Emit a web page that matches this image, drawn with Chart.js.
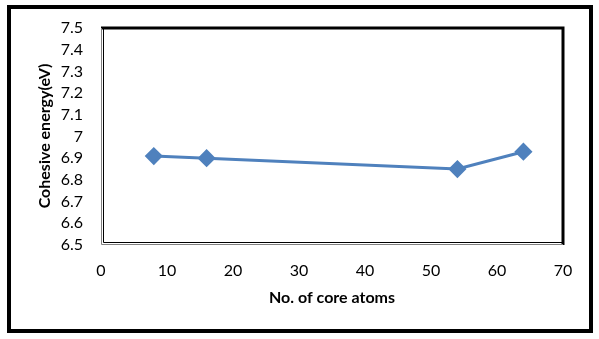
<!DOCTYPE html>
<html>
<head>
<meta charset="utf-8">
<script src="https://cdn.jsdelivr.net/npm/chart.js@4"></script>
<style>
  html, body { margin: 0; padding: 0; background: #fff; }
  canvas { display: block; }
</style>
</head>
<body>
<canvas id="cohesiveChart" width="599" height="339"></canvas>
<script>
// ====== Data ======
const coreAtoms = [8, 16, 54, 64];
const cohesiveEnergy = [6.91, 6.9, 6.85, 6.93];
const xTicks = [0, 10, 20, 30, 40, 50, 60, 70];
const yTicks = [6.5, 6.6, 6.7, 6.8, 6.9, 7, 7.1, 7.2, 7.3, 7.4, 7.5];
const xTitle = "No. of core atoms";
const yTitle = "Cohesive energy(eV)";

const FONT = "Lato, 'Open Sans', sans-serif";

// ====== Frame plugin (outer border, plot box, axis titles) ======
const framePlugin = {
  id: "frame",
  afterDraw(chart) {
    const ctx = chart.ctx;
    const a = chart.chartArea;
    ctx.save();
    // outer border
    ctx.strokeStyle = "#000";
    ctx.lineWidth = 4;
    ctx.strokeRect(9, 7, 582, 324);
    // plot box top/right
    ctx.lineWidth = 3;
    ctx.beginPath();
    ctx.moveTo(a.left, a.top);
    ctx.lineTo(a.right, a.top);
    ctx.lineTo(a.right, a.bottom);
    ctx.stroke();
    // left/bottom double line
    ctx.lineWidth = 1;
    ctx.strokeStyle = "#808080";
    ctx.beginPath();
    ctx.moveTo(a.left + 0.5, a.top);
    ctx.lineTo(a.left + 0.5, a.bottom - 0.5);
    ctx.lineTo(a.right, a.bottom - 0.5);
    ctx.stroke();
    ctx.strokeStyle = "#000";
    ctx.beginPath();
    ctx.moveTo(a.left + 2.5, a.top);
    ctx.lineTo(a.left + 2.5, a.bottom - 2.5);
    ctx.lineTo(a.right, a.bottom - 2.5);
    ctx.stroke();

    // axis titles
    ctx.fillStyle = "#000";
    ctx.font = "bold 16px " + FONT;
    ctx.textAlign = "center";
    ctx.textBaseline = "middle";
    ctx.fillText(xTitle, (a.left + a.right) / 2, 298);
    ctx.translate(45, 136);
    ctx.rotate(-Math.PI / 2);
    ctx.fillText(yTitle, 0, 0);
    ctx.restore();
  },
};

// ====== Chart ======
const ctx = document.getElementById("cohesiveChart");
new Chart(ctx, {
  type: "line",
  data: {
    datasets: [
      {
        data: coreAtoms.map((x, i) => ({ x: x, y: cohesiveEnergy[i] })),
        borderColor: "#4F81BD",
        backgroundColor: "#4F81BD",
        borderWidth: 3,
        pointStyle: "rectRot",
        pointRadius: 7,
        pointHoverRadius: 7,
        tension: 0,
      },
    ],
  },
  options: {
    responsive: false,
    animation: false,
    layout: { padding: { left: 0, top: 28, right: 36, bottom: 0 } },
    plugins: {
      legend: { display: false },
      tooltip: { enabled: false },
    },
    scales: {
      x: {
        type: "linear",
        min: 0,
        max: 70,
        afterBuildTicks: (s) => { s.ticks = xTicks.map((v) => ({ value: v })); },
        afterFit: (s) => { s.height = 94; },
        grid: { display: false, drawTicks: false },
        border: { display: false },
        ticks: { color: "#000", padding: 16, autoSkip: false, maxRotation: 0, font: { family: FONT, size: 16 } },
      },
      y: {
        min: 6.5,
        max: 7.5,
        afterBuildTicks: (s) => { s.ticks = yTicks.map((v) => ({ value: v })); },
        afterFit: (s) => { s.width = 101; },
        grid: { display: false, drawTicks: false },
        border: { display: false },
        ticks: {
          color: "#000",
          padding: 18,
          autoSkip: false,
          font: { family: FONT, size: 16 },
          callback: (v) => String(v),
        },
      },
    },
  },
  plugins: [framePlugin],
});
</script>
</body>
</html>
